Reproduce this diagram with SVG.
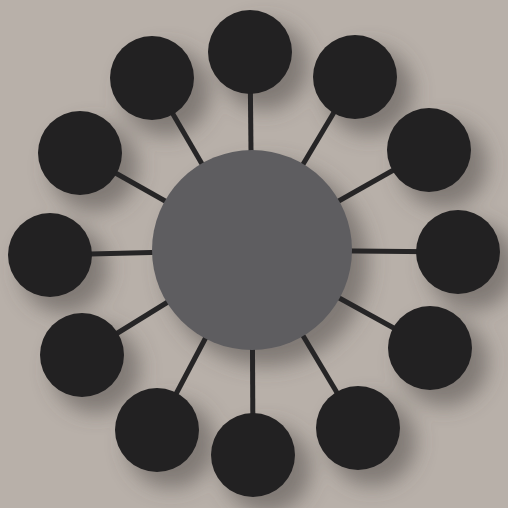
<svg xmlns="http://www.w3.org/2000/svg" width="508" height="508" viewBox="0 0 508 508">
<defs>
<filter id="sh" x="-50%" y="-50%" width="200%" height="200%">
<feGaussianBlur stdDeviation="10"/>
</filter>
<style>
.sat{fill:#222122}
.hub{fill:#5e5d60}
.ln{stroke:#262526;stroke-width:5;stroke-linecap:butt}
.shd{fill:#5a5654;opacity:0.6}
</style>
</defs>
<rect width="508" height="508" fill="#b8b0a9"/>
<g id="shadows" filter="url(#sh)" transform="translate(14,14)">
<circle class="shd" cx="252" cy="250" r="102"/>
<circle class="shd" cx="250" cy="52" r="44"/>
<circle class="shd" cx="355" cy="77" r="44"/>
<circle class="shd" cx="429" cy="150" r="44"/>
<circle class="shd" cx="458" cy="252" r="44"/>
<circle class="shd" cx="430" cy="348" r="44"/>
<circle class="shd" cx="358" cy="428" r="44"/>
<circle class="shd" cx="253" cy="455" r="44"/>
<circle class="shd" cx="157" cy="430" r="44"/>
<circle class="shd" cx="82" cy="355" r="44"/>
<circle class="shd" cx="50" cy="255" r="44"/>
<circle class="shd" cx="80" cy="153" r="44"/>
<circle class="shd" cx="152" cy="78" r="44"/>
</g>
<g id="connectors">
<line class="ln" x1="250" y1="52" x2="252" y2="250"/>
<line class="ln" x1="355" y1="77" x2="252" y2="250"/>
<line class="ln" x1="429" y1="150" x2="252" y2="250"/>
<line class="ln" x1="458" y1="252" x2="252" y2="250"/>
<line class="ln" x1="430" y1="348" x2="252" y2="250"/>
<line class="ln" x1="358" y1="428" x2="252" y2="250"/>
<line class="ln" x1="253" y1="455" x2="252" y2="250"/>
<line class="ln" x1="157" y1="430" x2="252" y2="250"/>
<line class="ln" x1="82" y1="355" x2="252" y2="250"/>
<line class="ln" x1="50" y1="255" x2="252" y2="250"/>
<line class="ln" x1="80" y1="153" x2="252" y2="250"/>
<line class="ln" x1="152" y1="78" x2="252" y2="250"/>
</g>
<g id="hub"><circle class="hub" cx="252" cy="250" r="100"/></g>
<g id="n1"><circle class="sat" cx="250" cy="52" r="42"/></g>
<g id="n2"><circle class="sat" cx="355" cy="77" r="42"/></g>
<g id="n3"><circle class="sat" cx="429" cy="150" r="42"/></g>
<g id="n4"><circle class="sat" cx="458" cy="252" r="42"/></g>
<g id="n5"><circle class="sat" cx="430" cy="348" r="42"/></g>
<g id="n6"><circle class="sat" cx="358" cy="428" r="42"/></g>
<g id="n7"><circle class="sat" cx="253" cy="455" r="42"/></g>
<g id="n8"><circle class="sat" cx="157" cy="430" r="42"/></g>
<g id="n9"><circle class="sat" cx="82" cy="355" r="42"/></g>
<g id="n10"><circle class="sat" cx="50" cy="255" r="42"/></g>
<g id="n11"><circle class="sat" cx="80" cy="153" r="42"/></g>
<g id="n12"><circle class="sat" cx="152" cy="78" r="42"/></g>
</svg>
